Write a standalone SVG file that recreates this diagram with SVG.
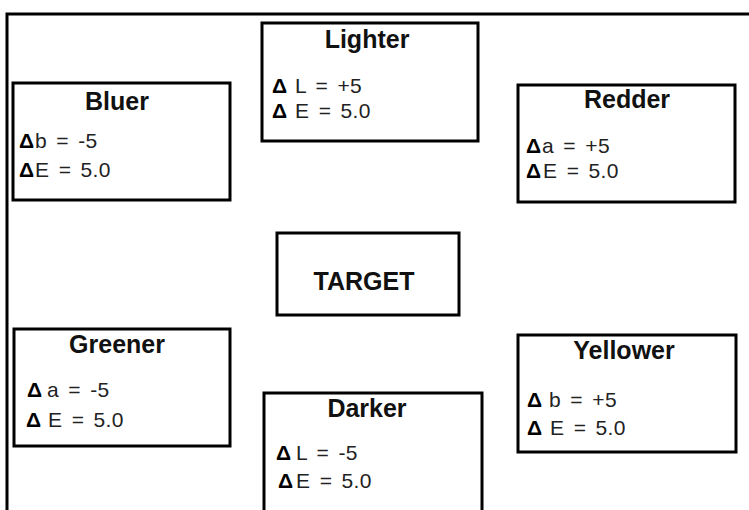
<svg xmlns="http://www.w3.org/2000/svg" width="749" height="510" viewBox="0 0 749 510">
<style>
.box{fill:#fff;stroke:#000;stroke-width:3}
.frame{fill:none;stroke:#000;stroke-width:3}
.t{font-family:"Liberation Sans",Arial,sans-serif;font-weight:bold;font-size:25px;fill:#111;text-anchor:middle}
.b{font-family:"Liberation Sans",Arial,sans-serif;font-size:21px;fill:#222;word-spacing:3px;letter-spacing:0.4px}
.d{font-weight:bold;font-size:21px;fill:#000}
</style>
<rect width="749" height="510" fill="#fff"/>
<path class="frame" d="M7,510 V14 H749"/>
<g id="lighter">
<rect class="box" x="262" y="23" width="216" height="118"/>
<text class="t" x="367" y="48">Lighter</text>
<text class="b" y="93"><tspan class="d" x="272">Δ</tspan><tspan x="295">L = +5</tspan></text>
<text class="b" y="118"><tspan class="d" x="272">Δ</tspan><tspan x="295">E = 5.0</tspan></text>
</g>
<g id="bluer">
<rect class="box" x="13" y="83" width="217" height="117"/>
<text class="t" x="117" y="110">Bluer</text>
<text class="b" y="148"><tspan class="d" x="19">Δ</tspan><tspan x="35">b = -5</tspan></text>
<text class="b" y="177"><tspan class="d" x="19">Δ</tspan><tspan x="35">E = 5.0</tspan></text>
</g>
<g id="redder">
<rect class="box" x="518" y="85" width="217" height="117"/>
<text class="t" x="627" y="108">Redder</text>
<text class="b" y="153"><tspan class="d" x="526">Δ</tspan><tspan x="542">a = +5</tspan></text>
<text class="b" y="178"><tspan class="d" x="526">Δ</tspan><tspan x="543">E = 5.0</tspan></text>
</g>
<g id="target">
<rect class="box" x="277" y="233" width="182" height="82"/>
<text class="t" x="364" y="290">TARGET</text>
</g>
<g id="greener">
<rect class="box" x="14" y="329" width="216" height="117"/>
<text class="t" x="117" y="353">Greener</text>
<text class="b" y="397"><tspan class="d" x="27">Δ</tspan><tspan x="47">a = -5</tspan></text>
<text class="b" y="427"><tspan class="d" x="26">Δ</tspan><tspan x="48">E = 5.0</tspan></text>
</g>
<g id="darker">
<rect class="box" x="264" y="393" width="218" height="122"/>
<text class="t" x="367" y="417">Darker</text>
<text class="b" y="460"><tspan class="d" x="276">Δ</tspan><tspan x="296">L = -5</tspan></text>
<text class="b" y="488"><tspan class="d" x="278">Δ</tspan><tspan x="296">E = 5.0</tspan></text>
</g>
<g id="yellower">
<rect class="box" x="518" y="335" width="218" height="117"/>
<text class="t" x="624" y="359">Yellower</text>
<text class="b" y="407"><tspan class="d" x="527">Δ</tspan><tspan x="549">b = +5</tspan></text>
<text class="b" y="435"><tspan class="d" x="527">Δ</tspan><tspan x="550">E = 5.0</tspan></text>
</g>
<g id="connectors"></g>
</svg>
